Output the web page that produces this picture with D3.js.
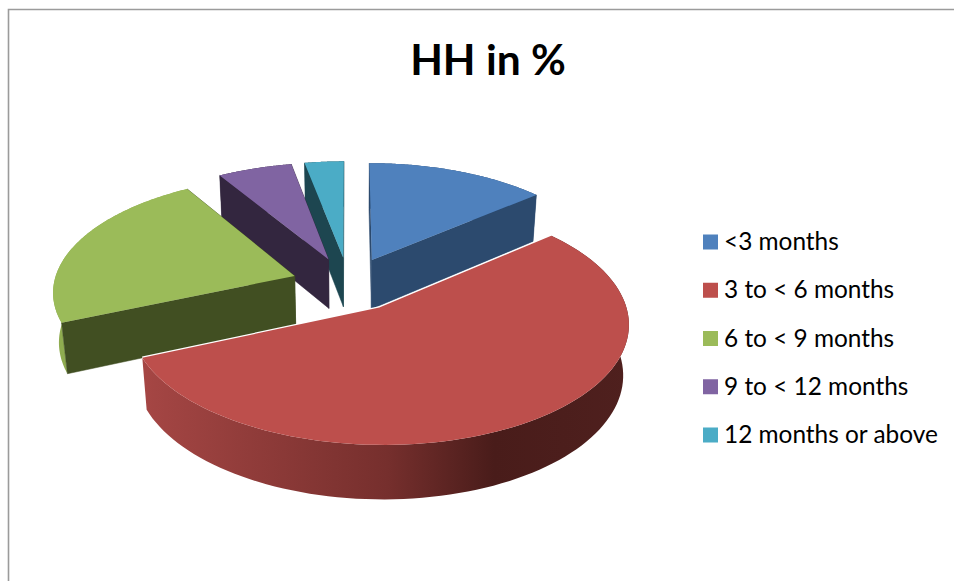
<!DOCTYPE html>
<html>
<head>
<meta charset="utf-8">
<script src="https://cdn.jsdelivr.net/npm/d3@7"></script>
<style>
  html, body { margin: 0; padding: 0; background: #fff; overflow: hidden; }
  svg { display: block; }
</style>
</head>
<body>
<div id="chart"></div>
<script>
const categories = ["<3 months", "3 to < 6 months", "6 to < 9 months", "9 to < 12 months", "12 months or above"];
const values = [13.8, 54.7, 22.8, 5.7, 3.0];
const topColors = ["#4f81bd", "#bd4f4c", "#9bbb59", "#8064a2", "#4bacc6"];
const sideColors = ["#2c4a6e", "#4f201e", "#414f22", "#33263f", "#1d4650"];
const wallColors = ["#2c4a6e", "url(#redWall)", "#8fac50", "#33263f", "#1d4650"];
// back to front, so nearer slices paint over the others
const drawOrder = [4, 3, 0, 2, 1];

const width = 954;
const height = 581;
const explode = 0.2365;
const perspective = 0.1225;
const depth = 0.444;

const x = d3.scaleLinear().domain([-1, 1]).range([348.5 - 241, 348.5 + 241]);
const y = d3.scaleLinear().domain([-1, 1]).range([284 - 114.3, 284 + 114.3]);
const color = d3.scaleOrdinal().domain(categories).range(topColors);
const legendY = d3.scalePoint().domain(categories).range([242, 435]);

// plane coords: u to the right, v towards the viewer, h down
function project(u, v, h) {
    const w = 1 - perspective * v + 0.02 * h;
    return [x(u / w), y((v + depth * h) / w)];
}

const pie = d3.pie().sort(null).value(d => d).startAngle(0).endAngle(2 * Math.PI);
const slices = pie(values);

const svg = d3.select("#chart").append("svg")
    .attr("width", width)
    .attr("height", height)
    .attr("viewBox", [0, 0, width, height]);

const grad = svg.append("defs").append("linearGradient")
    .attr("id", "redWall")
    .attr("gradientUnits", "userSpaceOnUse")
    .attr("x1", 145).attr("x2", 630)
    .attr("y1", 0).attr("y2", 0);
grad.selectAll("stop")
    .data([[0, "#a54644"], [0.5, "#762f2d"], [0.72, "#491c1a"], [1, "#4f201e"]])
    .join("stop")
    .attr("offset", d => d[0])
    .attr("stop-color", d => d[1]);

// chart frame, cut by the edges of the picture
svg.append("path")
    .attr("d", `M8.5,${height}V9.5H${width}`)
    .attr("fill", "none")
    .attr("stroke", "#9b9b9b")
    .attr("stroke-width", 1.6);

svg.append("text")
    .attr("x", 488)
    .attr("y", 75)
    .attr("text-anchor", "middle")
    .attr("font-family", "Lato, 'Open Sans', sans-serif")
    .attr("font-weight", 700)
    .attr("font-size", 42.5)
    .attr("fill", "#000")
    .text("HH in %");

const line = d3.line();
const pies = svg.append("g");

drawOrder.forEach(i => {
    const s = slices[i];
    const mid = (s.startAngle + s.endAngle) / 2;
    const cu = explode * Math.sin(mid);
    const cv = -explode * Math.cos(mid);
    const angles = d3.range(0, 101).map(k => s.startAngle + (s.endAngle - s.startAngle) * k / 100);
    const rim = h => angles.map(a => project(cu + Math.sin(a), cv - Math.cos(a), h));
    const apex = h => project(cu, cv, h);
    const top = rim(0);
    const bottom = rim(1);
    const big = values[i] > 50;
    const g = pies.append("g");

    g.append("path")
        .attr("d", line(top.concat(bottom.slice().reverse())) + "Z")
        .attr("fill", wallColors[i]);

    // cut faces, the one further back first. the big slice hides both of its own
    if (!big) {
        const faces = [
            [apex(0), top[0], bottom[0], apex(1)],
            [apex(0), top[100], bottom[100], apex(1)]
        ].sort((a, b) => a[1][1] - b[1][1]);
        faces.forEach(f => {
            g.append("path")
                .attr("d", line(f) + "Z")
                .attr("fill", sideColors[i])
                .attr("stroke", sideColors[i])
                .attr("stroke-width", 0.5);
        });
    }

    // the big slice has a thin white edge where it overlaps its neighbours
    if (big) {
        g.append("path")
            .attr("d", line([top[100], apex(0), top[0]]))
            .attr("fill", "none")
            .attr("stroke", "#fff")
            .attr("stroke-width", 2.5);
    }

    g.append("path")
        .attr("d", line([apex(0)].concat(top)) + "Z")
        .attr("fill", color(categories[i]));
});

const legend = svg.append("g")
    .selectAll("g")
    .data(categories)
    .join("g")
    .attr("transform", d => `translate(703,${legendY(d)})`);

legend.append("rect")
    .attr("x", 0)
    .attr("y", -7.5)
    .attr("width", 15)
    .attr("height", 15)
    .attr("fill", d => color(d));

legend.append("text")
    .attr("x", 21)
    .attr("y", 8)
    .attr("font-family", "Lato, 'Open Sans', sans-serif")
    .attr("font-size", 24.4)
    .attr("fill", "#000")
    .text(d => d);
</script>
</body>
</html>
